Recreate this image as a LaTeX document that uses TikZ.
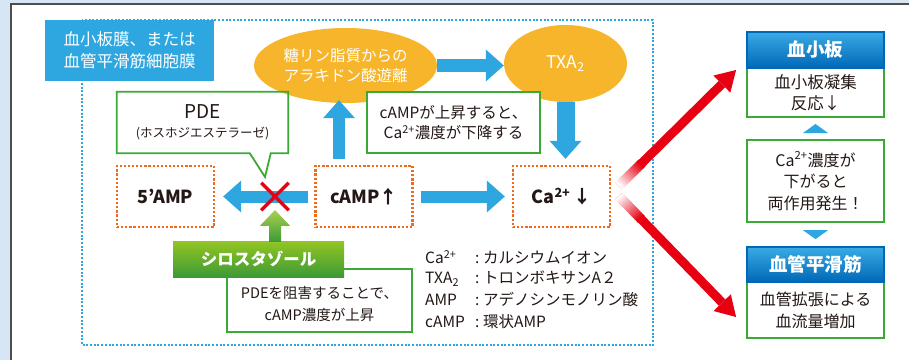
\documentclass[tikz,border=0pt]{standalone}
\usepackage{fontspec}
\setmainfont{Noto Sans CJK JP}
\usetikzlibrary{shapes.geometric,shapes.misc,arrows.meta,calc}
\definecolor{bgblue}{HTML}{D6E6F5}
\definecolor{framec}{HTML}{4D4D4D}
\definecolor{cyanb}{HTML}{2EA7E0}
\definecolor{orangeE}{HTML}{F6B52A}
\definecolor{greenB}{HTML}{3AAA35}
\definecolor{orangeD}{HTML}{EE6B1E}
\definecolor{redA}{HTML}{E60012}
\definecolor{gtop}{HTML}{93C524}
\definecolor{gbot}{HTML}{3C9A36}
\definecolor{btop}{HTML}{3AAAE4}
\definecolor{bbot}{HTML}{0068B7}
\definecolor{txt}{HTML}{231815}
\newcommand{\myfs}[2]{\fontsize{#1}{#2}\selectfont}
\tikzset{
  bluedot/.style={draw=cyanb, line width=2.2pt, dash pattern=on 2pt off 1.7pt},
  dotbox/.style={draw=orangeD, line width=2.4pt, dash pattern=on 2.2pt off 1.9pt, minimum width=97pt, minimum height=61pt, text=txt, font=\myfs{18}{20}\bfseries},
  greenbox/.style={draw=greenB, line width=1.8pt, fill=white, text=txt, align=center, inner sep=0pt},
  hdr/.style={shade, top color=btop, bottom color=bbot, draw=bbot, line width=1.2pt, text=white, font=\myfs{18.5}{20}\bfseries, minimum width=137pt, minimum height=36pt},
  barrow/.style={draw=cyanb, line width=13pt, -{Triangle[width=32pt,length=18pt,line width=0pt]}},
  rarrow/.style={draw=redA, line width=9pt, -{Triangle[width=24pt,length=20pt,line width=0pt]}},
  legend/.style={anchor=west, inner sep=0pt, text=txt, font=\myfs{15.5}{18}},
  oval/.style={ellipse, fill=orangeE, text=white, align=center, inner sep=0pt},
}
\begin{document}
\begin{tikzpicture}[x=1pt,y=-1pt]
\useasboundingbox (0,0) rectangle (909,360);
\fill[bgblue] (0,0) rectangle (909,360);
\fill[white] (11,4) rectangle (909,360);
\draw[framec, line width=2pt] (11,360) -- (11,4) -- (909,4);

% membrane region
\draw[bluedot] (82,20) rectangle (653,345);
\node[fill=cyanb, minimum width=169pt, minimum height=61pt, text=white, align=center, font=\myfs{16.5}{21.5}] (title) at (129.5,50.5) {血小板膜、または\\血管平滑筋細胞膜};

% ellipses
\node[oval, minimum width=183pt, minimum height=75pt, font=\myfs{15.5}{20}] (ell1) at (345.5,65.5) {糖リン脂質からの\\アラキドン酸遊離};
\node[oval, minimum width=123pt, minimum height=77pt, font=\myfs{17.5}{19}] (txa) at (565.5,63.5) {TXA\textsubscript{2}};

% cAMP note
\node[greenbox, minimum width=173pt, minimum height=61pt, font=\myfs{15.5}{20.5}] (cnote) at (453.5,122.5) {cAMPが上昇すると、\\Ca\textsuperscript{2+}濃度が下降する};

% PDE callout
\node[align=center, text=txt, minimum width=171pt, minimum height=61pt, inner sep=0pt, font=\myfs{12.5}{19}] (pde) at (202.5,122.5) {{\myfs{19}{19}PDE}\\(ホスホジエステラーゼ)};
\coordinate (pdetip) at (265,177);
\draw[greenB, line width=1.8pt, line join=miter] (pde.north west) -- (pde.north east) -- (pde.south east) -- ($(pde.south west)+(154,0)$) -- (pdetip) -- ($(pde.south west)+(133,0)$) -- (pde.south west) -- cycle;

% dotted boxes
\node[dotbox] (amp) at (165.5,196.5) {5’AMP};
\node[dotbox] (camp) at (364,196.5) {cAMP↑};
\node[dotbox] (ca) at (561.5,196.5) {Ca\textsuperscript{2+}\,↓};

% blue arrows
\draw[barrow] (ell1.east) -- (ell1.east -| txa.west);
\draw[barrow, line width=18pt, shorten >=6pt] (txa.south) -- (txa.south |- ca.north);
\coordinate (upfoot) at ($(camp.north)+(-25,-6)$);
\draw[barrow, line width=12pt, shorten >=-3pt] (upfoot) -- (upfoot |- ell1.south);
\draw[barrow, line width=12pt, shorten <=6pt, shorten >=8pt] (camp.west) -- (amp.east);
\draw[barrow, line width=12pt, shorten <=7pt, shorten >=7pt] (camp.east) -- (ca.west);

% red cross
\node[cross out, draw=redA, line width=3.5pt, minimum size=24pt, inner sep=0pt] (xmark) at (275,196.5) {};

% PDE inhibition note and cilostazol
\node[greenbox, minimum width=185pt, minimum height=63pt] (inh) at (319.5,300.5) {};
\node[align=center, text=txt, font=\myfs{14.5}{21.5}] (inhtxt) at ($(inh.center)+(0,3.5)$) {PDEを阻害することで、\\cAMP濃度が上昇};
\node[shade, top color=gtop, bottom color=gbot, minimum width=171pt, minimum height=36pt, text=white, font=\myfs{16.5}{18}\bfseries] (cil) at (258.5,259) {シロスタゾール};
\coordinate (gfoot) at ($(cil.north)+(16.5,1)$);
\coordinate (gtip) at ($(xmark.center)+(0,13.5)$);
\shade[top color=gtop!80!white, bottom color=gbot] ($(gfoot)+(-6,0)$) -- ($(gfoot)+(-6,-16)$) -- ($(gfoot)+(-15,-16)$) -- (gtip) -- ($(gfoot)+(15,-16)$) -- ($(gfoot)+(6,-16)$) -- ($(gfoot)+(6,0)$) -- cycle;

% legend
\node[legend] (lg1) at (425,257) {\makebox[50pt][l]{Ca\textsuperscript{2+}}\makebox[8pt][l]{:}カルシウムイオン};
\node[legend] (lg2) at (425,278.5) {\makebox[50pt][l]{TXA\textsubscript{2}}\makebox[8pt][l]{:}トロンボキサンA２};
\node[legend] (lg3) at (425,300) {\makebox[50pt][l]{AMP}\makebox[8pt][l]{:}アデノシンモノリン酸};
\node[legend] (lg4) at (425,321.5) {\makebox[50pt][l]{cAMP}\makebox[8pt][l]{:}環状AMP};

% right column
\node[greenbox, minimum width=137pt, minimum height=49pt, font=\myfs{16.5}{21}] (plateb) at (815.5,92.5) {血小板凝集\\反応↓};
\node[hdr] (plateh) at (815.5,50) {血小板};
\node[greenbox, minimum width=137pt, minimum height=82pt, font=\myfs{16}{21.5}] (midb) at (815.5,181) {Ca\textsuperscript{2+}濃度が\\下がると\\両作用発生！};
\node[greenbox, minimum width=137pt, minimum height=56pt, font=\myfs{16}{22}] (smb) at (815.5,310) {血管拡張による\\血流量増加};
\node[hdr, minimum height=35pt] (smh) at (815.5,264.5) {血管平滑筋};
\coordinate (tu) at ($(plateb.south)!0.5!(midb.north)$);
\fill[cyanb] ($(tu)+(-12.5,4.5)$) -- ($(tu)+(0,-4.5)$) -- ($(tu)+(12.5,4.5)$) -- cycle;
\coordinate (td) at ($(midb.south)!0.5!(smh.north)$);
\fill[cyanb] ($(td)+(-12.5,-4.5)$) -- ($(td)+(0,4.5)$) -- ($(td)+(12.5,-4.5)$) -- cycle;

% red arrows
\coordinate (rs1) at ($(ca.east)+(7.5,-10.5)$);
\coordinate (re1) at ($(plateb.west)+(-10,-22.5)$);
\coordinate (rs2) at ($(ca.east)+(7.5,-0.5)$);
\coordinate (re2) at ($(smb.west)+(-10,7)$);
\draw[rarrow] (rs1) -- (re1);
\draw[rarrow] (rs2) -- (re2);
\foreach \i in {0,...,13} {
  \pgfmathsetmacro\da{\i*2.3}
  \pgfmathsetmacro\db{\i*2.3+2.9}
  \pgfmathsetmacro\pc{\i*100/13}
  \draw[line width=9.6pt, redA!\pc!white] ($(rs1)!\da pt!(re1)$) -- ($(rs1)!\db pt!(re1)$);
  \draw[line width=9.6pt, redA!\pc!white] ($(rs2)!\da pt!(re2)$) -- ($(rs2)!\db pt!(re2)$);
}
\end{tikzpicture}
\end{document}
